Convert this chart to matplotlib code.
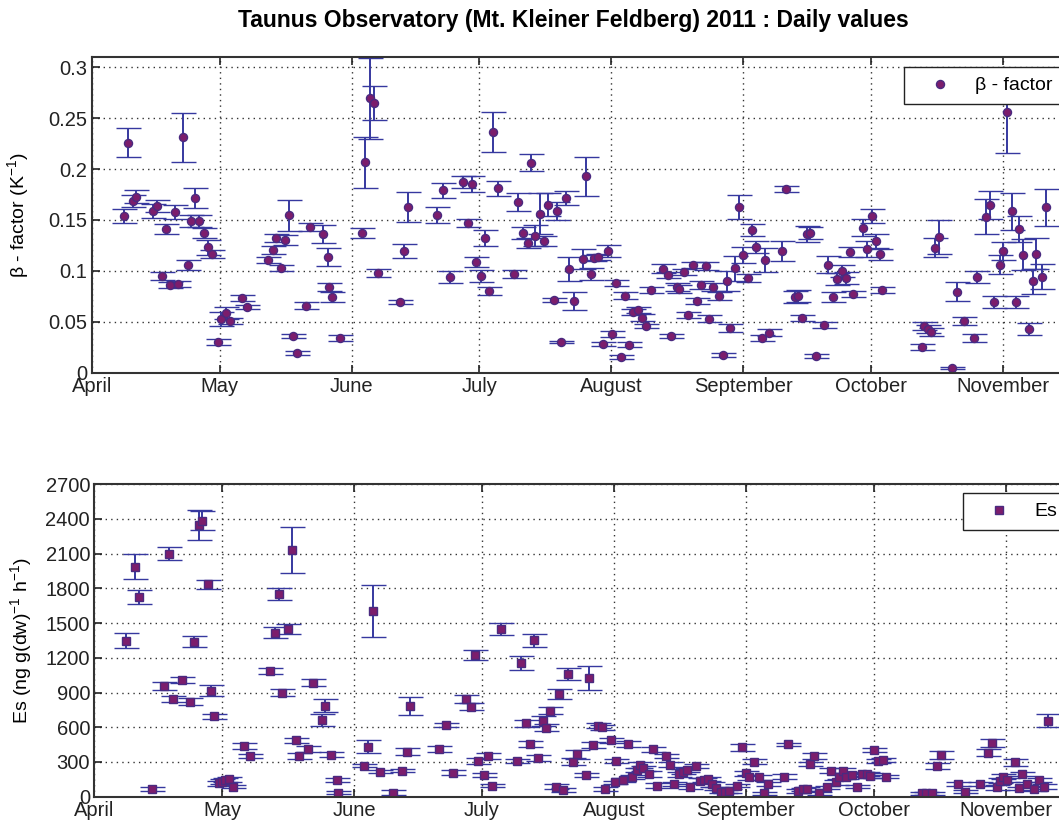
import numpy as np
import matplotlib
matplotlib.use("Agg")
import matplotlib.pyplot as plt
from matplotlib.lines import Line2D

plt.rcParams['font.family'] = ['Liberation Sans', 'DejaVu Sans']
plt.rcParams['mathtext.fontset'] = 'custom'
plt.rcParams['mathtext.rm'] = 'Liberation Sans'
plt.rcParams['mathtext.it'] = 'Liberation Sans:italic'
plt.rcParams['mathtext.bf'] = 'Liberation Sans:bold'

# days since 1 April 2011
month_days = [0, 30, 61, 91, 122, 153, 183, 214]
month_names = ["April", "May", "June", "July", "August", "September", "October", "November"]

beta_day = [7.6, 8.5, 9.6, 10.4, 14.5, 15.3, 16.5, 17.4, 18.4, 19.6,
            20.3, 21.4, 22.5, 23.4, 24.2, 25.3, 26.4, 27.4, 28.3, 29.7,
            30.4, 31.5, 32.5, 35.2, 36.5, 41.5, 42.5, 43.3, 44.4, 45.4,
            46.4, 47.3, 48.1, 50.3, 51.2, 54.2, 55.4, 55.6, 56.4, 58.3,
            63.4, 64.2, 65.3, 66.3, 67.3, 72.4, 73.3, 74.2, 81.1, 82.4,
            84.1, 87.2, 88.4, 89.3, 90.2, 91.5, 92.3, 93.3, 94.1, 95.4,
            99.1, 100.1, 101.3, 102.3, 103.1, 104.1, 105.2, 106.2, 107.1, 108.5,
            109.2, 110.1, 111.3, 112.1, 113.2, 115.3, 116.0, 117.1, 117.9, 118.8,
            120.1, 121.3, 122.1, 123.1, 124.2, 125.1, 126.1, 127.1, 128.2, 129.1,
            130.1, 131.2, 134.2, 135.3, 136.1, 137.3, 137.9, 139.0, 140.0, 141.2,
            142.0, 143.0, 144.3, 145.0, 145.9, 147.2, 148.1, 149.1, 149.9, 151.1,
            152.0, 153.0, 154.1, 155.1, 155.9, 157.3, 158.1, 159.0, 162.0, 163.0,
            165.2, 165.8, 166.7, 168.0, 168.7, 170.0, 172.0, 172.9, 174.1, 174.9,
            176.1, 177.0, 178.0, 178.8, 181.0, 181.9, 183.1, 184.0, 185.0, 185.6,
            194.9, 195.3, 196.2, 197.0, 198.0, 198.8, 201.9, 203.1, 204.8, 207.0,
            207.9, 210.0, 210.9, 211.8, 213.1, 213.9, 214.8, 216.1, 217.0, 217.7,
            218.7, 220.0, 220.9, 221.7, 223.0, 224.0]

beta = [0.154, 0.226, 0.169, 0.173, 0.159, 0.164, 0.095, 0.1415, 0.086, 0.1576,
        0.087, 0.231, 0.106, 0.149, 0.1716, 0.149, 0.1375, 0.123, 0.1166, 0.030,
        0.0524, 0.0583, 0.0505, 0.0737, 0.0642, 0.1107, 0.1205, 0.1326, 0.103, 0.130,
        0.1546, 0.036, 0.019, 0.066, 0.1428, 0.136, 0.1134, 0.084, 0.074, 0.034,
        0.1375, 0.2067, 0.2695, 0.265, 0.098, 0.069, 0.1195, 0.1625, 0.155, 0.179,
        0.0943, 0.1876, 0.1467, 0.185, 0.1085, 0.0953, 0.1326, 0.0806, 0.2364, 0.181,
        0.097, 0.1674, 0.1375, 0.127, 0.2063, 0.1346, 0.156, 0.129, 0.165, 0.0714,
        0.1588, 0.0305, 0.1716, 0.1019, 0.0707, 0.1117, 0.193, 0.097, 0.1124, 0.1133,
        0.0279, 0.1195, 0.038, 0.0881, 0.0155, 0.0758, 0.0277, 0.060, 0.0616, 0.0542,
        0.0455, 0.0811, 0.1023, 0.0958, 0.0365, 0.0839, 0.082, 0.0986, 0.0567, 0.106,
        0.0707, 0.0858, 0.1044, 0.0532, 0.0842, 0.0753, 0.0177, 0.0902, 0.0439, 0.1025,
        0.1625, 0.1158, 0.0933, 0.1405, 0.1235, 0.0344, 0.1107, 0.0395, 0.1197, 0.1805,
        0.0747, 0.075, 0.054, 0.136, 0.1375, 0.0164, 0.0469, 0.1062, 0.0747, 0.0922,
        0.0997, 0.093, 0.1188, 0.0772, 0.1426, 0.1213, 0.1537, 0.1297, 0.1161, 0.0809,
        0.0255, 0.0461, 0.0426, 0.0398, 0.1229, 0.1333, 0.005, 0.0796, 0.0504, 0.0343,
        0.0943, 0.1532, 0.1647, 0.0691, 0.1062, 0.1192, 0.2558, 0.1585, 0.0691, 0.141,
        0.116, 0.0428, 0.0897, 0.117, 0.0943, 0.1625]

beta_err = [0.007, 0.014, 0.006, 0.006, 0.007, 0.006, 0.004, 0.005, 0.003, 0.007,
            0.003, 0.024, 0.005, 0.006, 0.0095, 0.006, 0.005, 0.007, 0.004, 0.003,
            0.007, 0.006, 0.003, 0.003, 0.002, 0.003, 0.004, 0.004, 0.003, 0.005,
            0.015, 0.002, 0.002, 0.003, 0.004, 0.009, 0.009, 0.004, 0.005, 0.003,
            0.005, 0.025, 0.04, 0.017, 0.004, 0.002, 0.007, 0.0145, 0.008, 0.007,
            0.006, 0.006, 0.004, 0.008, 0.005, 0.006, 0.008, 0.004, 0.0195, 0.0075,
            0.004, 0.009, 0.006, 0.005, 0.008, 0.01, 0.02, 0.005, 0.011, 0.002,
            0.009, 0.001, 0.007, 0.012, 0.009, 0.01, 0.019, 0.006, 0.003, 0.003,
            0.002, 0.006, 0.003, 0.003, 0.002, 0.003, 0.002, 0.003, 0.003, 0.003,
            0.002, 0.003, 0.004, 0.003, 0.002, 0.004, 0.004, 0.003, 0.003, 0.003,
            0.003, 0.004, 0.004, 0.003, 0.004, 0.004, 0.002, 0.01, 0.004, 0.012,
            0.012, 0.008, 0.004, 0.006, 0.006, 0.003, 0.012, 0.003, 0.01, 0.003,
            0.006, 0.006, 0.003, 0.008, 0.006, 0.002, 0.003, 0.008, 0.005, 0.006,
            0.006, 0.006, 0.005, 0.003, 0.008, 0.008, 0.007, 0.007, 0.005, 0.003,
            0.003, 0.004, 0.004, 0.004, 0.009, 0.017, 0.001, 0.009, 0.004, 0.004,
            0.006, 0.017, 0.0135, 0.006, 0.009, 0.009, 0.04, 0.018, 0.006, 0.013,
            0.015, 0.006, 0.012, 0.015, 0.012, 0.018]

es_day = [7.4, 9.6, 10.6, 13.5, 16.4, 17.5, 18.4, 20.5, 22.5, 23.5,
          24.5, 25.2, 26.6, 27.3, 28.2, 29.3, 30.0, 30.8, 31.6, 32.6,
          35.1, 36.6, 41.3, 42.5, 43.4, 44.2, 45.6, 46.4, 47.4, 48.1,
          50.2, 51.4, 53.4, 54.2, 55.7, 56.9, 57.3, 63.3, 64.3, 65.4,
          67.2, 70.2, 72.3, 73.4, 74.1, 81.0, 82.5, 84.3, 87.2, 88.4,
          89.4, 90.2, 91.5, 92.4, 93.3, 95.4, 99.2, 100.2, 101.4, 102.3,
          103.2, 104.1, 105.3, 106.1, 107.0, 108.3, 109.2, 110.1, 111.3, 112.3,
          113.3, 115.5, 116.2, 117.2, 118.3, 119.1, 119.9, 121.3, 122.3, 122.5,
          124.2, 125.4, 126.2, 127.4, 128.1, 128.9, 130.2, 131.3, 132.2, 134.3,
          135.2, 136.1, 137.3, 138.3, 139.2, 139.9, 141.3, 142.2, 143.1, 144.2,
          145.1, 145.9, 147.1, 148.1, 149.1, 150.8, 152.2, 153.0, 153.8, 155.0,
          156.1, 157.2, 158.3, 162.0, 162.9, 165.3, 166.3, 167.3, 168.0, 169.0,
          170.2, 172.0, 173.1, 174.1, 174.9, 175.9, 176.5, 177.8, 179.0, 180.2,
          181.4, 182.1, 183.1, 184.1, 185.1, 185.9, 194.3, 195.4, 196.6, 197.9,
          198.8, 202.9, 204.4, 208.0, 209.9, 210.9, 211.9, 212.7, 213.4, 214.2,
          216.3, 217.1, 217.9, 218.9, 220.7, 221.8, 223.1, 224.0]

es = [1349, 1989, 1727, 67, 955, 2101, 842, 1006, 821, 1340,
      2349, 2386, 1836, 916, 695, 115, 130, 145, 150, 87,
      441, 352, 1087, 1418, 1750, 899, 1447, 2133, 488, 352,
      410, 985, 663, 787, 363, 144, 35, 268, 432, 1606,
      216, 35, 225, 389, 784, 412, 620, 208, 845, 778,
      1225, 309, 188, 354, 95, 1450, 309, 1153, 635, 453,
      1352, 337, 654, 597, 741, 86, 888, 58, 1058, 303,
      367, 188, 1029, 447, 614, 600, 67, 487, 124, 309,
      144, 456, 170, 231, 274, 246, 194, 410, 95, 352,
      277, 110, 194, 216, 231, 86, 265, 138, 144, 153,
      107, 73, 43, 43, 49, 95, 427, 202, 168, 303,
      168, 29, 110, 173, 453, 49, 64, 67, 283, 352,
      29, 81, 225, 124, 173, 225, 173, 188, 86, 196,
      196, 182, 404, 309, 317, 173, 29, 29, 29, 265,
      358, 110, 43, 110, 380, 467, 81, 138, 173, 144,
      297, 73, 196, 110, 67, 144, 86, 657]

es_err = [67, 107, 60, 15, 35, 55, 25, 25, 30, 45,
          130, 85, 40, 50, 20, 20, 20, 20, 20, 15,
          25, 20, 25, 50, 50, 30, 45, 200, 20, 25,
          25, 30, 55, 55, 20, 15, 15, 15, 55, 226,
          15, 20, 15, 30, 75, 25, 20, 20, 35, 30,
          45, 25, 20, 25, 15, 55, 15, 60, 30, 25,
          55, 25, 40, 30, 30, 20, 40, 20, 50, 30,
          40, 20, 104, 30, 20, 20, 20, 20, 15, 15,
          15, 25, 20, 20, 25, 20, 25, 20, 20, 20,
          20, 20, 20, 20, 20, 20, 20, 20, 20, 20,
          20, 15, 15, 15, 15, 15, 30, 20, 20, 20,
          20, 15, 20, 20, 15, 15, 15, 15, 20, 25,
          15, 15, 20, 20, 20, 20, 20, 20, 15, 20,
          20, 20, 20, 20, 20, 15, 15, 15, 15, 25,
          35, 20, 15, 20, 30, 35, 20, 20, 20, 20,
          30, 15, 20, 20, 15, 20, 20, 55]

face = '#7c1d6c'
edge = '#4a2a80'
barcol = '#36389f'

fig = plt.figure(figsize=(10.59, 8.25), dpi=100)
ax1 = fig.add_axes([0.0866, 0.5482, 0.9252, 0.3827])
ax2 = fig.add_axes([0.0890, 0.0343, 0.9250, 0.3787])


def style(ax):
    ax.set_xlim(0, 230)
    ax.set_xticks(month_days)
    ax.set_xticklabels(month_names)
    ax.grid(True, linestyle=(0, (1, 3)), color='#333333', linewidth=1.0)
    ax.tick_params(direction='in', top=True, right=True, length=6, width=1.2,
                   labelsize=14.5, pad=3, colors='#222222')
    for s in ax.spines.values():
        s.set_linewidth(1.5)
        s.set_color('#333333')


leg_kw = dict(loc='upper right', fontsize=14, fancybox=False, edgecolor='#222222',
              framealpha=1, borderaxespad=0, handletextpad=0.45, handlelength=2.7,
              borderpad=0.5)

ax1.errorbar(beta_day, beta, yerr=beta_err, fmt='o', ms=5.8, mfc=face, mec=edge,
             mew=1.0, ecolor=barcol, elinewidth=1.4, capsize=9, capthick=1.4)
style(ax1)
ax1.set_ylim(0, 0.31)
ax1.set_yticks([0, 0.05, 0.1, 0.15, 0.2, 0.25, 0.3])
ax1.set_yticklabels(["0", "0.05", "0.1", "0.15", "0.2", "0.25", "0.3"])
ax1.set_ylabel(r"β - factor (K$^{-1}$)", fontsize=14)
ax1.yaxis.set_label_coords(-0.062, 0.5)
h1 = Line2D([], [], linestyle='none', marker='o', ms=5.8, mfc=face, mec=edge)
ax1.legend([h1], ["β - factor"], bbox_to_anchor=(0.9903, 0.968), **leg_kw)

ax2.errorbar(es_day, es, yerr=es_err, fmt='s', ms=5.5, mfc=face, mec=edge,
             mew=1.0, ecolor=barcol, elinewidth=1.4, capsize=9, capthick=1.4)
style(ax2)
ax2.set_ylim(0, 2700)
ax2.set_yticks(np.arange(0, 2701, 300))
ax2.set_ylabel(r"Es (ng g(dw)$^{-1}$ h$^{-1}$)", fontsize=14)
ax2.yaxis.set_label_coords(-0.062, 0.5)
h2 = Line2D([], [], linestyle='none', marker='s', ms=5.5, mfc=face, mec=edge)
ax2.legend([h2], ["Es"], bbox_to_anchor=(0.993, 0.972), **leg_kw)

fig.text(0.541, 0.975, "Taunus Observatory (Mt. Kleiner Feldberg) 2011 : Daily values",
         ha='center', va='center', fontsize=16.5, fontweight='bold')

fig.savefig("out.png", dpi=100)
